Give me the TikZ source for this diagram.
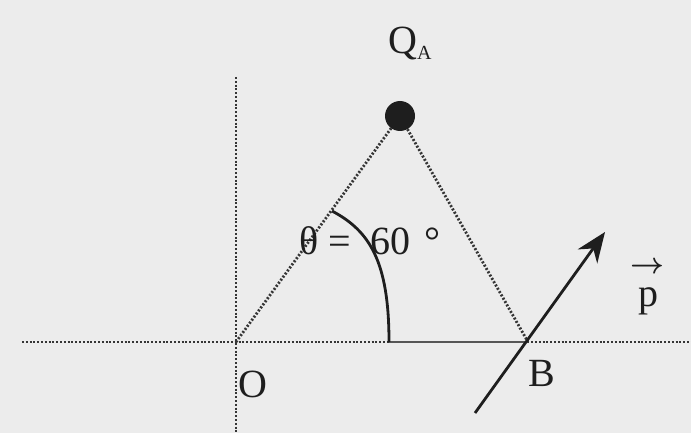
\documentclass[tikz,border=0pt]{standalone}
\usepackage{graphicx}
\usepackage{fontspec}
\setmainfont{Liberation Serif}
\usetikzlibrary{arrows.meta}
\definecolor{bg}{RGB}{236,236,236}
\definecolor{ink}{RGB}{30,30,30}
\tikzset{
  dotline/.style={draw=ink!90, line width=2.8pt, dash pattern=on 2pt off 1.8pt},
  solidline/.style={draw=ink, line width=2.2pt},
  lbl/.style={font=\fontsize{40}{48}\selectfont, text=ink, inner sep=0pt}
}
\begin{document}
\begin{tikzpicture}[x=1pt,y=-1pt]
\fill[bg] (0,0) rectangle (691,433);
\useasboundingbox (0,0) rectangle (691,433);
% points
\coordinate (O) at (236,342);
\coordinate (Qc) at (400,116);
\coordinate (B) at (528,342);
\coordinate (xl) at (22,342);
\coordinate (xr) at (691,342);
\coordinate (yt) at (236,77);
\coordinate (yb) at (236,433);
\coordinate (arcbase) at (389,342);
\coordinate (arcend) at (332,211);
\coordinate (tail) at (475,413);
\coordinate (tip) at (605,232);
% axes
\draw[dotline] (xl) -- (xr);
\draw[dotline] (yt) -- (yb);
\draw[solidline, draw=ink!75, line width=1.8pt] (arcbase) -- (B);
% triangle sides
\draw[dotline] (O) -- (Qc);
\draw[dotline] (Qc) -- (B);
% charge
\node[circle, fill=ink, minimum size=30pt, inner sep=0pt] (Q) at (Qc) {};
% angle arc
\draw[solidline, line width=2.8pt] (arcbase) .. controls (389,262) and (370,231) .. (arcend);
% dipole arrow
\draw[solidline, line width=2.8pt, -{Stealth[length=30pt, width=24pt]}] (tail) -- (tip);
% labels
\node[lbl] (QA) at (410,44) {Q\raisebox{-6pt}{\fontsize{20}{24}\selectfont A}};
\node[lbl, anchor=west] (ang) at (299,241) {θ\kern10pt=\kern20pt60\kern14pt°};
\node[lbl] (Olbl) at (253,384) {O};
\node[lbl] (Blbl) at (542,373) {B};
\node[lbl] (parr) at (647,268) {\resizebox{34pt}{!}{\boldmath$\rightarrow$}};
\node[lbl] (plbl) at (648,301) {p};
\end{tikzpicture}
\end{document}
